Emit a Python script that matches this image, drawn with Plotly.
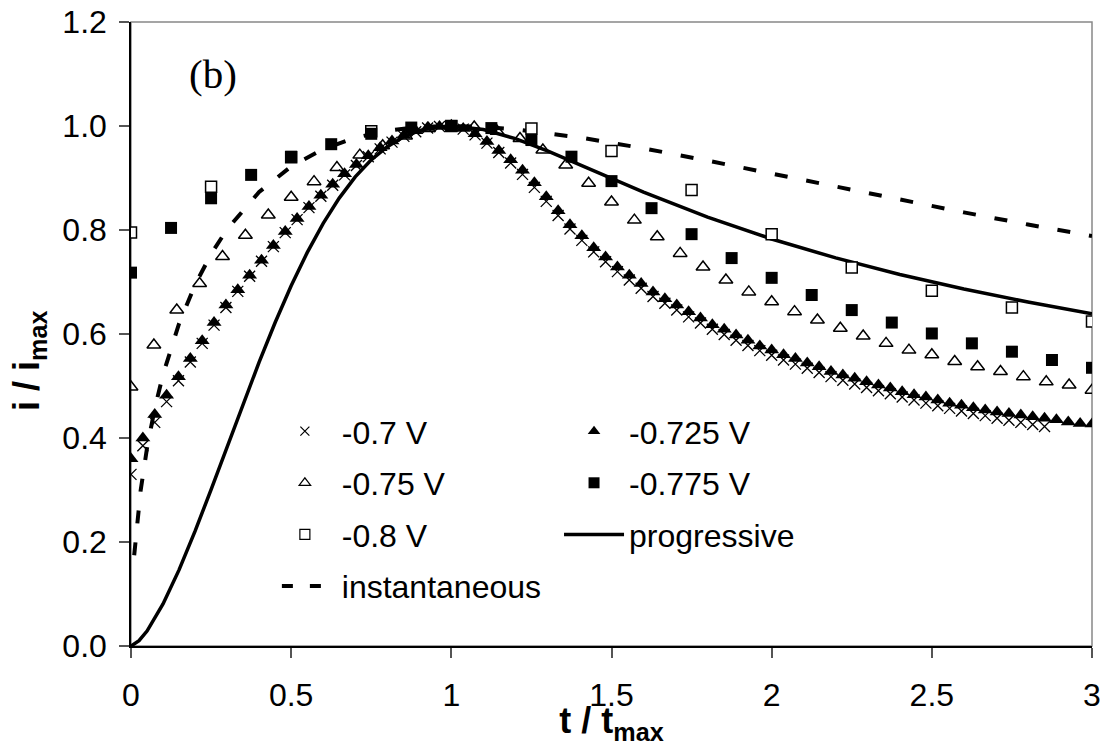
import plotly.graph_objects as go

# ---------------- data ----------------
# -0.725 V (filled triangles), t step 1/27
t_725 = [k / 27 for k in range(82)]
i_725 = [0.36, 0.40, 0.445, 0.482, 0.518, 0.553, 0.587, 0.622, 0.656, 0.685,
         0.713, 0.742, 0.770, 0.797, 0.822, 0.845, 0.867, 0.888, 0.908, 0.926,
         0.943, 0.958, 0.971, 0.982, 0.991, 0.997, 0.999, 1.0,
         0.995, 0.985, 0.970, 0.953, 0.935, 0.915, 0.891, 0.864, 0.837, 0.810,
         0.789, 0.766, 0.748, 0.729, 0.713, 0.697, 0.681, 0.668, 0.656, 0.643,
         0.631, 0.618, 0.609, 0.598, 0.588, 0.577, 0.569, 0.560, 0.553, 0.544,
         0.537, 0.528, 0.521, 0.515, 0.508, 0.502, 0.496, 0.489, 0.483, 0.479,
         0.473, 0.467, 0.463, 0.458, 0.454, 0.450, 0.447, 0.444, 0.441, 0.438,
         0.435, 0.431, 0.428, 0.427]

# -0.7 V (crosses)
t_700 = [k / 27 for k in range(78)]
i_700 = [0.33, 0.385, 0.43, 0.47, 0.51, 0.546, 0.582, 0.617, 0.651, 0.682,
         0.711, 0.740, 0.768, 0.795, 0.820, 0.843, 0.865, 0.886, 0.906, 0.924,
         0.941, 0.956, 0.969, 0.980, 0.989, 0.996, 0.999, 1.0,
         0.994, 0.983, 0.967, 0.949, 0.929, 0.907, 0.882, 0.855, 0.828, 0.802,
         0.780, 0.758, 0.739, 0.720, 0.704, 0.688, 0.672, 0.659, 0.646, 0.633,
         0.621, 0.609, 0.599, 0.588, 0.578, 0.568, 0.559, 0.550, 0.542, 0.534,
         0.526, 0.518, 0.511, 0.504, 0.497, 0.491, 0.485, 0.479, 0.473, 0.467,
         0.462, 0.457, 0.452, 0.447, 0.443, 0.438, 0.434, 0.430, 0.426, 0.422]

# -0.75 V (open triangles), t step 1/14
t_750 = [k / 14 for k in range(43)]
i_750 = [0.498, 0.579, 0.646, 0.697, 0.749, 0.790, 0.829, 0.863, 0.893, 0.920,
         0.944, 0.962, 0.981, 0.995, 1.0, 0.998, 0.990, 0.976, 0.954, 0.925,
         0.890, 0.854, 0.819, 0.787, 0.755, 0.729, 0.704, 0.681, 0.662, 0.643,
         0.627, 0.611, 0.596, 0.582, 0.569, 0.560, 0.547, 0.537, 0.528, 0.518,
         0.508, 0.502, 0.492]

# -0.775 V (filled squares), t step 1/8
t_775 = [k / 8 for k in range(25)]
i_775 = [0.718, 0.804, 0.861, 0.906, 0.941, 0.965, 0.985, 0.997, 1.0, 0.996,
         0.973, 0.941, 0.894, 0.842, 0.792, 0.746, 0.708, 0.675, 0.646, 0.622,
         0.601, 0.582, 0.566, 0.550, 0.535]

# -0.8 V (open squares), t step 1/4
t_800 = [k / 4 for k in range(13)]
i_800 = [0.795, 0.883, 0.940, 0.990, 1.0, 0.995, 0.952, 0.877, 0.792, 0.728,
         0.683, 0.651, 0.624]

# theoretical curves
t_inst = [0.01, 0.02, 0.03, 0.05, 0.075, 0.1, 0.15, 0.2, 0.25, 0.3, 0.4, 0.5,
          0.6, 0.7, 0.8, 0.9, 1.0, 1.1, 1.2, 1.4, 1.6, 1.8, 2.0, 2.2, 2.4,
          2.6, 2.8, 3.0]
i_inst = [0.1745, 0.2453, 0.2986, 0.3807, 0.4591, 0.5219, 0.6200, 0.6947,
          0.7537, 0.8014, 0.8731, 0.9221, 0.9555, 0.9775, 0.9909, 0.9980,
          1.0, 0.9983, 0.9935, 0.9780, 0.9571, 0.9334, 0.9084, 0.8831,
          0.8581, 0.8339, 0.8106, 0.7885]

t_prog = [0.0, 0.025, 0.05, 0.1, 0.15, 0.2, 0.25, 0.3, 0.35, 0.4, 0.45, 0.5,
          0.55, 0.6, 0.65, 0.7, 0.75, 0.8, 0.85, 0.9, 0.95, 1.0, 1.1, 1.2,
          1.3, 1.4, 1.5, 1.6, 1.8, 2.0, 2.2, 2.4, 2.6, 2.8, 3.0]
i_prog = [0.0, 0.0102, 0.0288, 0.0809, 0.1464, 0.2209, 0.3008, 0.3833,
          0.4657, 0.5460, 0.6221, 0.6927, 0.7565, 0.8128, 0.8614, 0.9021,
          0.9349, 0.9602, 0.9787, 0.9911, 0.9979, 1.0, 0.9931, 0.9756,
          0.9522, 0.9260, 0.8991, 0.8729, 0.8247, 0.7827, 0.7463, 0.7145,
          0.6865, 0.6615, 0.6391]

x_ticks = [0, 0.5, 1, 1.5, 2, 2.5, 3]
x_ticklabels = ["0", "0.5", "1", "1.5", "2", "2.5", "3"]

FONT = "Arial, 'Liberation Sans', sans-serif"
NB = "\u00a0"
FS = 32

fig = go.Figure()

# data traces (drawing order: -0.8 below -0.775)
fig.add_trace(go.Scatter(x=t_inst, y=i_inst, mode="lines", showlegend=False,
                         line=dict(color="black", width=4, dash="13px,19px")))
fig.add_trace(go.Scatter(x=t_prog, y=i_prog, mode="lines", showlegend=False,
                         line=dict(color="black", width=3.5)))
fig.add_trace(go.Scatter(x=t_700, y=i_700, mode="markers", showlegend=False,
                         marker=dict(symbol="x-thin", size=11, line=dict(color="black", width=1.3))))
fig.add_trace(go.Scatter(x=t_725, y=i_725, mode="markers", showlegend=False,
                         marker=dict(symbol="triangle-up", size=13, color="black", line=dict(width=0))))
fig.add_trace(go.Scatter(x=t_750, y=i_750, mode="markers", showlegend=False,
                         marker=dict(symbol="triangle-up-open", size=12, color="black", line=dict(color="black", width=1.5))))
fig.add_trace(go.Scatter(x=t_800, y=i_800, mode="markers", showlegend=False,
                         marker=dict(symbol="square", size=11, color="white", line=dict(color="black", width=1.5))))
fig.add_trace(go.Scatter(x=t_775, y=i_775, mode="markers", showlegend=False,
                         marker=dict(symbol="square", size=12, color="black", line=dict(width=0))))

# legend-only entries
def leg(name, legend, group, **kw):
    fig.add_trace(go.Scatter(x=[None], y=[None], name=name, legend=legend,
                             legendgroup=group, **kw))

leg(NB + "-0.7 V", "legend", "a", mode="markers",
    marker=dict(symbol="x-thin", size=9, line=dict(color="black", width=1.2)))
leg(NB + "-0.75 V", "legend", "b", mode="markers",
    marker=dict(symbol="triangle-up-open", size=10, color="black", line=dict(color="black", width=1.2)))
leg(NB + "-0.8 V", "legend", "c", mode="markers",
    marker=dict(symbol="square-open", size=10, color="black", line=dict(color="black", width=1.2)))
leg(NB + "instantaneous", "legend", "d", mode="lines",
    line=dict(color="black", width=4, dash="11px,17px"))
leg("-0.725 V", "legend2", "e", mode="markers",
    marker=dict(symbol="triangle-up", size=11, color="black", line=dict(width=0)))
leg("-0.775 V", "legend2", "f", mode="markers",
    marker=dict(symbol="square", size=11, color="black", line=dict(width=0)))
leg("progressive", "legend2", "g", mode="lines",
    line=dict(color="black", width=3.5))

legend_common = dict(font=dict(family=FONT, size=FS, color="black"),
                     bgcolor="rgba(0,0,0,0)", borderwidth=0,
                     tracegroupgap=7, itemclick=False, itemdoubleclick=False,
                     xanchor="left", yanchor="top")

fig.update_layout(
    width=1103, height=746,
    margin=dict(l=131, r=11, t=22, b=100),
    paper_bgcolor="white", plot_bgcolor="white",
    font=dict(family=FONT, size=FS, color="black"),
    legend=dict(x=0.1518, y=0.388, itemwidth=46, **legend_common),
    legend2=dict(x=0.4454, y=0.388, itemwidth=60, **legend_common),
    xaxis=dict(range=[0, 3], tickvals=x_ticks, ticktext=x_ticklabels,
               automargin=False,
               showgrid=False, zeroline=False, showline=True, linecolor="black",
               linewidth=1.5, ticks="outside", ticklen=10, tickcolor="#555",
               tickwidth=1.5, ticklabelstandoff=10,
               tickfont=dict(family=FONT, size=FS, color="black"),
               title=dict(text="<b>t / t<sub>max</sub></b>", standoff=8,
                          font=dict(family=FONT, size=36, color="black"))),
    yaxis=dict(range=[0, 1.2], dtick=0.2, tickformat=".1f",
               automargin=False,
               showgrid=False, zeroline=False, showline=True, linecolor="black",
               linewidth=1.5, ticks="outside", ticklen=10, tickcolor="#555",
               tickwidth=1.5, ticklabelstandoff=6,
               tickfont=dict(family=FONT, size=FS, color="black")),
    shapes=[dict(type="rect", xref="paper", yref="paper", x0=0, y0=0, x1=1, y1=1,
                 line=dict(color="#888", width=1.5), layer="below")],
    annotations=[
        dict(text="(b)", xref="paper", yref="paper",
             x=(213 - 131) / 961, y=(646 - 74) / 624,
             xanchor="center", yanchor="middle", showarrow=False,
             font=dict(family="'Times New Roman', 'Liberation Serif', serif",
                       size=41, color="black")),
        dict(text="<b>i / i<sub>max</sub></b>", xref="paper", yref="paper",
             x=(29 - 131) / 961, y=(646 - 361) / 624, textangle=-90,
             xanchor="center", yanchor="middle", showarrow=False,
             font=dict(family=FONT, size=36, color="black")),
    ],
)

fig.write_html("out.html")
